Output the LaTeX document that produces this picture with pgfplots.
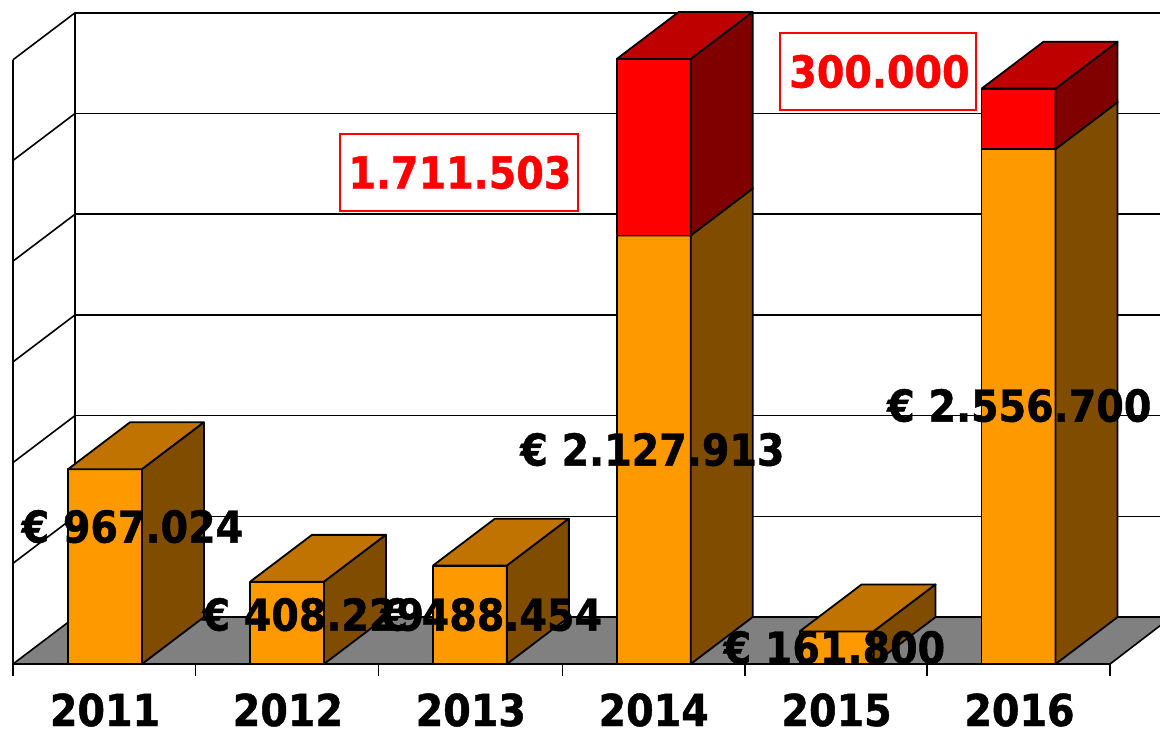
\documentclass[border=0pt]{standalone}
\usepackage{fontspec}
\setmainfont{DejaVu Sans Condensed}[BoldFeatures={FakeBold=1}]
\usepackage{pgfplots}
\pgfplotsset{compat=1.18}

\definecolor{orangefront}{HTML}{FF9900}
\definecolor{orangetop}{HTML}{C07300}
\definecolor{orangeside}{HTML}{804D00}
\definecolor{redfront}{HTML}{FF0000}
\definecolor{redtop}{HTML}{BF0000}
\definecolor{redside}{HTML}{800000}

\newcommand\labfont{\fontsize{22}{26}\selectfont\bfseries}

% one bar: position, bottom, top, colours of front, top and side face
\newcommand\barbox[6]{%
  \pgfmathsetmacro\xl{#1-0.2023}%
  \pgfmathsetmacro\xr{#1+0.2023}%
  \pgfmathsetmacro\xbl{#1-0.2023+0.3388}%
  \pgfmathsetmacro\xbr{#1+0.2023+0.3388}%
  \edef\ybb{\the\numexpr#2+233000\relax}%
  \edef\ytb{\the\numexpr#3+233000\relax}%
  \edef\tmp{%
    \noexpand\addplot[draw=black,line width=.9pt,line join=round,fill=#4] coordinates {(\xl,#2) (\xr,#2) (\xr,#3) (\xl,#3) (\xl,#2)};
    \noexpand\addplot[draw=black,line width=.9pt,line join=round,fill=#5] coordinates {(\xl,#3) (\xr,#3) (\xbr,\ytb) (\xbl,\ytb) (\xl,#3)};
    \noexpand\addplot[draw=black,line width=.9pt,line join=round,fill=#6] coordinates {(\xr,#2) (\xbr,\ybb) (\xbr,\ytb) (\xr,#3) (\xr,#2)};
  }\tmp
}

\begin{document}
\begin{tikzpicture}
\path[use as bounding box] (0,0) rectangle (580pt,365pt);
\begin{axis}[
  at={(0,33pt)}, anchor=south west,
  scale only axis, width=580pt, height=332pt,
  xmin=-0.5741, xmax=5.7682,
  ymin=0, ymax=3296760,
  clip=false,
  axis x line*=bottom,
  x axis line style={draw=none},
  hide y axis,
  xtick={0,1,2,3,4,5},
  xticklabels={2011,2012,2013,2014,2015,2016},
  minor xtick={-0.503,0.495,1.495,2.5,3.5,4.495,5.495},
  major tick length=0pt,
  minor tick length=6pt,
  tick align=outside,
  tick pos=bottom,
  every tick/.style={black,line width=.7pt},
  minor tick style={black,line width=.7pt},
  x tick label style={font=\labfont,anchor=base,yshift=-31pt},
]
% floor
\addplot[draw=none,fill=black!50] coordinates {(-0.503,0) (-0.1642,233000) (5.83,233000) (5.495,0) (-0.503,0)};
% back wall grid
\addplot[black,line width=.8pt] coordinates {(-0.1642,233000) (5.7682,233000)};
\addplot[black,line width=.8pt] coordinates {(-0.1642,733000) (5.7682,733000)};
\addplot[black,line width=.8pt] coordinates {(-0.1642,1233000) (5.7682,1233000)};
\addplot[black,line width=.8pt] coordinates {(-0.1642,1733000) (5.7682,1733000)};
\addplot[black,line width=.8pt] coordinates {(-0.1642,2233000) (5.7682,2233000)};
\addplot[black,line width=.8pt] coordinates {(-0.1642,2733000) (5.7682,2733000)};
\addplot[black,line width=.8pt] coordinates {(-0.1642,3233000) (5.7682,3233000)};
% left wall
\addplot[black,line width=.8pt] coordinates {(-0.503,0) (-0.1642,233000)};
\addplot[black,line width=.8pt] coordinates {(-0.503,500000) (-0.1642,733000)};
\addplot[black,line width=.8pt] coordinates {(-0.503,1000000) (-0.1642,1233000)};
\addplot[black,line width=.8pt] coordinates {(-0.503,1500000) (-0.1642,1733000)};
\addplot[black,line width=.8pt] coordinates {(-0.503,2000000) (-0.1642,2233000)};
\addplot[black,line width=.8pt] coordinates {(-0.503,2500000) (-0.1642,2733000)};
\addplot[black,line width=.8pt] coordinates {(-0.503,3000000) (-0.1642,3233000)};
\addplot[black,line width=.8pt] coordinates {(-0.503,0) (-0.503,3000000)};
\addplot[black,line width=.8pt] coordinates {(-0.1642,233000) (-0.1642,3233000)};
% right end of floor
\addplot[black,line width=.8pt] coordinates {(5.495,0) (5.83,233000)};

% bars
\barbox{0}{0}{967024}{orangefront}{orangetop}{orangeside}
\barbox{0.995}{0}{408229}{orangefront}{orangetop}{orangeside}
\barbox{1.995}{0}{488454}{orangefront}{orangetop}{orangeside}
\barbox{3}{0}{2127913}{orangefront}{orangetop}{orangeside}
\barbox{3}{2127913}{3003825}{redfront}{redtop}{redside}
\barbox{4}{0}{161800}{orangefront}{orangetop}{orangeside}
\barbox{4.995}{0}{2556700}{orangefront}{orangetop}{orangeside}
\barbox{4.995}{2556700}{2856700}{redfront}{redtop}{redside}

% base line
\addplot[black,line width=1pt] coordinates {(-0.503,0) (5.495,0)};

% value labels
\node[font=\labfont,anchor=base,inner sep=0pt] at (axis cs:0.150,602835) {€ 967.024};
\node[font=\labfont,anchor=base,inner sep=0pt] at (axis cs:1.139,165915) {€ 408.229};
\node[font=\labfont,anchor=base,inner sep=0pt] at (axis cs:2.112,165915) {€ 488.454};
\node[font=\labfont,anchor=base,inner sep=0pt] at (axis cs:2.993,985140) {€ 2.127.913};
\node[font=\labfont,anchor=base,inner sep=0pt] at (axis cs:3.988,2070) {€ 161.800};
\node[font=\labfont,anchor=base,inner sep=0pt] at (axis cs:4.999,1203600) {€ 2.556.700};
\node[font=\labfont,text=red,draw=red,fill=white,line width=.75pt,inner sep=0pt,minimum width=119pt,minimum height=38.5pt] at (axis cs:1.935,2440298) {\hspace{1pt}\raisebox{-.5pt}{1.711.503}};
\node[font=\labfont,text=red,draw=red,fill=white,line width=.75pt,inner sep=0pt,minimum width=98pt,minimum height=38.5pt] at (axis cs:4.226,2941763) {\hspace{1.5pt}\raisebox{-.5pt}{300.000}};
\end{axis}
\end{tikzpicture}
\end{document}
